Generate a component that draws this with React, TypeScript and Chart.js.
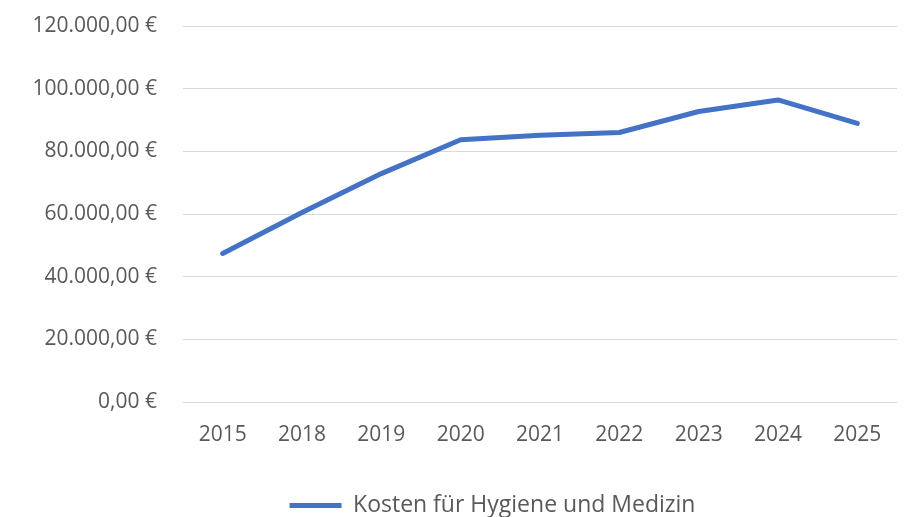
import React, { useEffect, useRef } from "react";
import { Chart, registerables } from "chart.js";

Chart.register(...registerables);

const categories = ["2015", "2018", "2019", "2020", "2021", "2022", "2023", "2024", "2025"];
const seriesName = "Kosten für Hygiene und Medizin";
const costs = [47400, 60500, 72900, 83700, 85100, 86000, 92700, 96400, 88900];
const yMin = 0;
const yMax = 120000;
const yStep = 20000;

const FONT = "'Open Sans', 'Liberation Sans', sans-serif";
const TEXT = "#595959";

function formatEuro(v: number): string {
  const fixed = Math.abs(v).toFixed(2);
  const [intPart, dec] = fixed.split(".");
  const withDots = intPart.replace(/\B(?=(\d{3})+(?!\d))/g, ".");
  return (v < 0 ? "-" : "") + withDots + "," + dec + " €";
}

const legendShift = {
  id: "legendShift",
  afterLayout(chart: any) {
    const lg = chart.legend;
    if (!lg) return;
    const dx = 44;
    const dy = 12;
    lg.left += dx;
    lg.right += dx;
    lg.top += dy;
    lg.bottom += dy;
  },
};

export default function App() {
  const ref = useRef<HTMLCanvasElement | null>(null);

  useEffect(() => {
    document.body.style.margin = "0";
    const canvas = ref.current;
    if (!canvas) return;
    const chart = new Chart(canvas, {
      type: "line",
      data: {
        labels: categories,
        datasets: [
          {
            label: seriesName,
            data: costs,
            borderColor: "#4472C4",
            backgroundColor: "#4472C4",
            borderWidth: 5,
            pointRadius: 0,
            pointHoverRadius: 0,
            tension: 0,
            borderCapStyle: "round",
            borderJoinStyle: "round",
          },
        ],
      },
      plugins: [legendShift],
      options: {
        responsive: false,
        animation: false,
        devicePixelRatio: 1,
        layout: { padding: { left: 0, right: 22, top: 26, bottom: 2 } },
        plugins: {
          tooltip: { enabled: false },
          legend: {
            position: "bottom",
            labels: {
              usePointStyle: true,
              pointStyle: "line",
              pointStyleWidth: 52,
              color: TEXT,
              font: { family: FONT, size: 23 },
              padding: 8,
            },
          },
        },
        scales: {
          x: {
            offset: true,
            grid: { display: false, drawTicks: false },
            border: { display: false },
            ticks: {
              color: TEXT,
              font: { family: FONT, size: 21 },
              padding: 20,
              maxRotation: 0,
              autoSkip: false,
            },
            afterFit: (scale: any) => {
              scale.height = 72;
              scale.paddingLeft = 0;
              scale.paddingRight = 0;
            },
          },
          y: {
            min: yMin,
            max: yMax,
            grid: { color: "#d9d9d9", lineWidth: 1, drawTicks: false },
            border: { display: false },
            ticks: {
              stepSize: yStep,
              color: TEXT,
              font: { family: FONT, size: 21 },
              padding: 26,
              callback: (v: any) => formatEuro(Number(v)),
            },
            afterFit: (scale: any) => {
              scale.width = 183;
              scale.paddingTop = 0;
              scale.paddingBottom = 0;
            },
          },
        },
      },
    });
    return () => chart.destroy();
  }, []);

  return (
    <div style={{ width: 919, height: 517 }}>
      <canvas ref={ref} width={919} height={517} style={{ display: "block" }} />
    </div>
  );
}
